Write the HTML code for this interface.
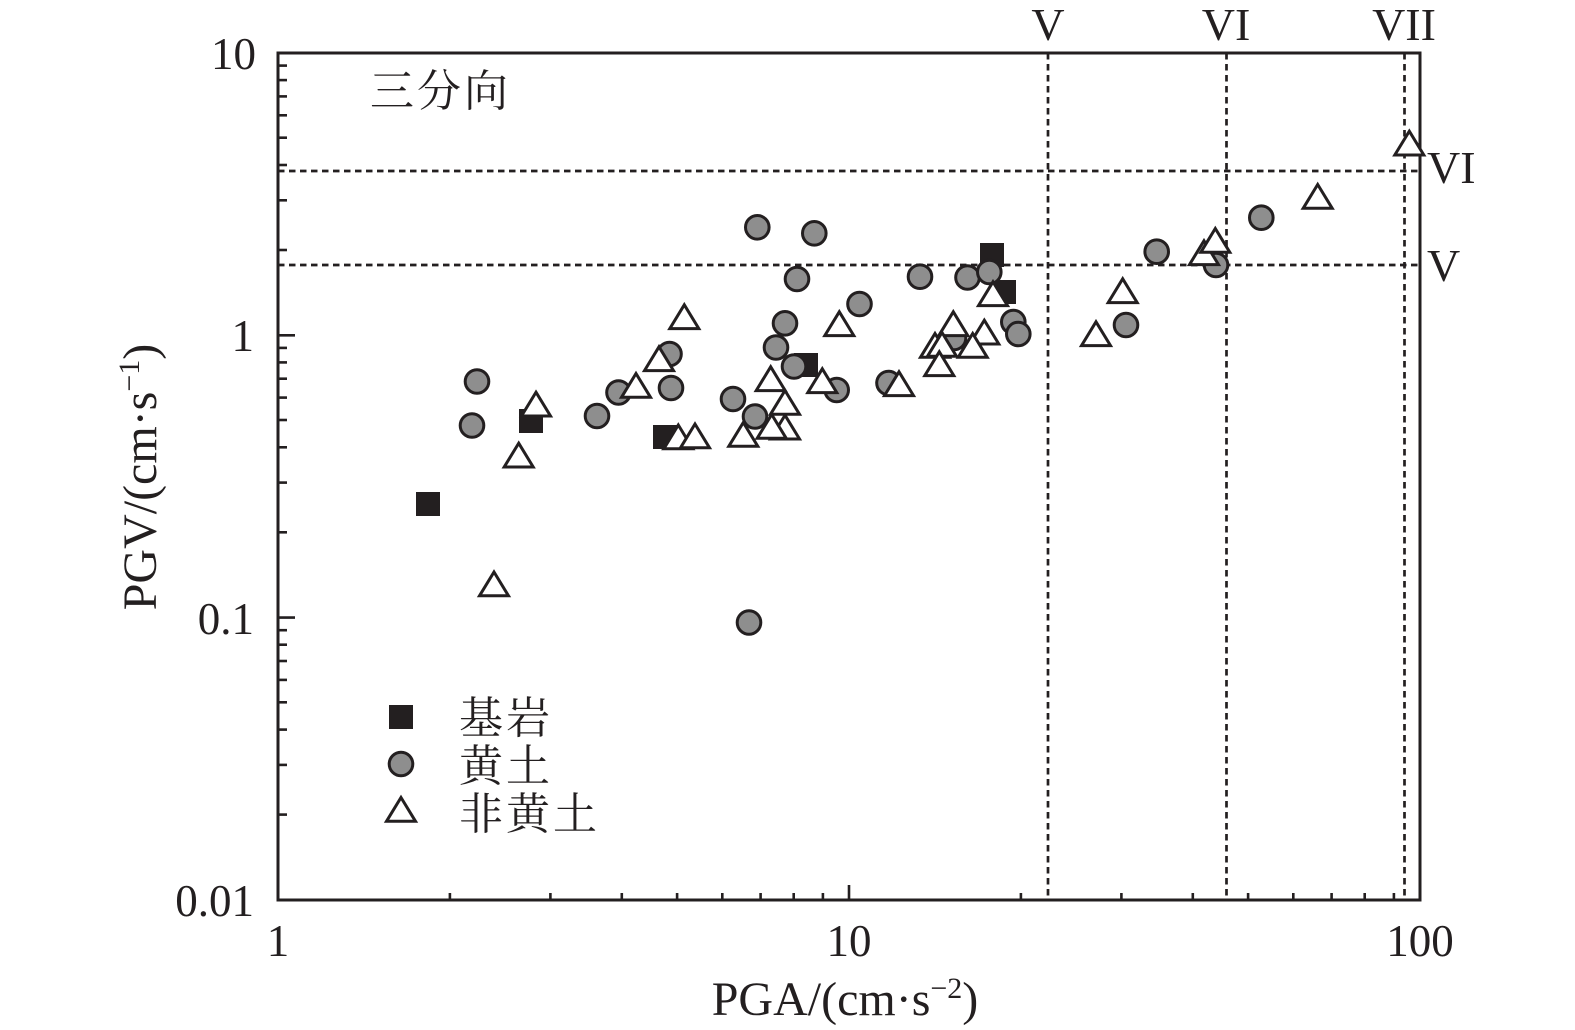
<!DOCTYPE html>
<html><head><meta charset="utf-8"><style>
html,body{margin:0;padding:0;background:#fff;}
svg{display:block;}
text{font-family:"Liberation Serif","Noto Serif CJK SC",serif;fill:#231f20;}
.cjk{font-family:"Liberation Serif","Noto Serif CJK SC","Noto Sans CJK SC",serif;}
</style></head><body>
<svg width="1575" height="1030" viewBox="0 0 1575 1030" xmlns="http://www.w3.org/2000/svg">
<rect width="1575" height="1030" fill="#fff"/>
<!-- dashed reference lines -->
<g stroke="#231f20" stroke-width="2.7" stroke-dasharray="6.5 4.5" fill="none">
<line x1="278" y1="171" x2="1420" y2="171"/>
<line x1="278" y1="265" x2="1420" y2="265"/>
<line x1="1048" y1="53" x2="1048" y2="900"/>
<line x1="1226.5" y1="53" x2="1226.5" y2="900"/>
<line x1="1404.5" y1="53" x2="1404.5" y2="900"/>
</g>
<!-- ticks -->
<g stroke="#231f20" stroke-width="2.6">
<line x1="278" y1="335.3" x2="295" y2="335.3"/>
<line x1="278" y1="617.6" x2="295" y2="617.6"/>
<line x1="278" y1="250" x2="287" y2="250"/><line x1="278" y1="200.3" x2="287" y2="200.3"/><line x1="278" y1="165" x2="287" y2="165"/><line x1="278" y1="137.7" x2="287" y2="137.7"/><line x1="278" y1="115.3" x2="287" y2="115.3"/><line x1="278" y1="96.4" x2="287" y2="96.4"/><line x1="278" y1="80.1" x2="287" y2="80.1"/><line x1="278" y1="65.6" x2="287" y2="65.6"/>
<line x1="278" y1="532.3" x2="287" y2="532.3"/><line x1="278" y1="482.6" x2="287" y2="482.6"/><line x1="278" y1="447.3" x2="287" y2="447.3"/><line x1="278" y1="420" x2="287" y2="420"/><line x1="278" y1="397.6" x2="287" y2="397.6"/><line x1="278" y1="378.7" x2="287" y2="378.7"/><line x1="278" y1="362.4" x2="287" y2="362.4"/><line x1="278" y1="347.9" x2="287" y2="347.9"/>
<line x1="278" y1="814.6" x2="287" y2="814.6"/><line x1="278" y1="764.9" x2="287" y2="764.9"/><line x1="278" y1="729.6" x2="287" y2="729.6"/><line x1="278" y1="702.3" x2="287" y2="702.3"/><line x1="278" y1="679.9" x2="287" y2="679.9"/><line x1="278" y1="661" x2="287" y2="661"/><line x1="278" y1="644.7" x2="287" y2="644.7"/><line x1="278" y1="630.2" x2="287" y2="630.2"/>
<line x1="849" y1="900" x2="849" y2="885"/>
<line x1="449.9" y1="900" x2="449.9" y2="893"/><line x1="550.4" y1="900" x2="550.4" y2="893"/><line x1="621.8" y1="900" x2="621.8" y2="893"/><line x1="677.1" y1="900" x2="677.1" y2="893"/><line x1="722.3" y1="900" x2="722.3" y2="893"/><line x1="760.6" y1="900" x2="760.6" y2="893"/><line x1="793.7" y1="900" x2="793.7" y2="893"/><line x1="822.9" y1="900" x2="822.9" y2="893"/>
<line x1="1020.9" y1="900" x2="1020.9" y2="893"/><line x1="1121.4" y1="900" x2="1121.4" y2="893"/><line x1="1192.8" y1="900" x2="1192.8" y2="893"/><line x1="1248.1" y1="900" x2="1248.1" y2="893"/><line x1="1293.3" y1="900" x2="1293.3" y2="893"/><line x1="1331.6" y1="900" x2="1331.6" y2="893"/><line x1="1364.7" y1="900" x2="1364.7" y2="893"/><line x1="1393.9" y1="900" x2="1393.9" y2="893"/>
</g>
<!-- frame -->
<rect x="278" y="53" width="1142" height="847" fill="none" stroke="#231f20" stroke-width="3"/>

<!-- squares 基岩 -->
<g fill="#231f20">
<rect x="416" y="492" width="24" height="24"/>
<rect x="519" y="409" width="24" height="24"/>
<rect x="653" y="425" width="24" height="24"/>
<rect x="794" y="353" width="24" height="24"/>
<rect x="980" y="243" width="24" height="24"/>
<rect x="992" y="280" width="24" height="24"/>
</g>
<!-- circles 黄土 -->
<g fill="#8e8e8e" stroke="#231f20" stroke-width="3">
<circle cx="477" cy="381.5" r="11.8"/>
<circle cx="472" cy="425.5" r="11.8"/>
<circle cx="597" cy="416" r="11.8"/>
<circle cx="618.5" cy="392.5" r="11.8"/>
<circle cx="669.5" cy="354" r="11.8"/>
<circle cx="671" cy="388" r="11.8"/>
<circle cx="733" cy="399" r="11.8"/>
<circle cx="755" cy="416.5" r="11.8"/>
<circle cx="776" cy="347.5" r="11.8"/>
<circle cx="785" cy="323.3" r="11.8"/>
<circle cx="794" cy="366.5" r="11.8"/>
<circle cx="797" cy="279" r="11.8"/>
<circle cx="757.3" cy="227.3" r="11.8"/>
<circle cx="814.3" cy="233.3" r="11.8"/>
<circle cx="836.7" cy="390" r="11.8"/>
<circle cx="859.5" cy="304" r="11.8"/>
<circle cx="749" cy="622.5" r="11.8"/>
<circle cx="888.5" cy="383" r="11.8"/>
<circle cx="920" cy="276.7" r="11.8"/>
<circle cx="967.5" cy="277.5" r="11.8"/>
<circle cx="989.3" cy="272" r="11.8"/>
<circle cx="954" cy="338" r="11.8"/>
<circle cx="1013.3" cy="322" r="11.8"/>
<circle cx="1018.3" cy="334" r="11.8"/>
<circle cx="1126" cy="325" r="11.8"/>
<circle cx="1156.7" cy="251.7" r="11.8"/>
<circle cx="1216" cy="265" r="11.8"/>
<circle cx="1261.3" cy="217.7" r="11.8"/>
</g>
<!-- triangles 非黄土 -->
<g fill="#fff" stroke="#231f20" stroke-width="3" stroke-linejoin="miter">
<polygon transform="translate(494,583.5)" points="0,-11.5 14.5,12.3 -14.5,12.3"/>
<polygon transform="translate(518.7,454.7)" points="0,-11.5 14.5,12.3 -14.5,12.3"/>
<polygon transform="translate(536,403.7)" points="0,-11.5 14.5,12.3 -14.5,12.3"/>
<polygon transform="translate(636,385)" points="0,-11.5 14.5,12.3 -14.5,12.3"/>
<polygon transform="translate(659,358.3)" points="0,-11.5 14.5,12.3 -14.5,12.3"/>
<polygon transform="translate(684.3,316.3)" points="0,-11.5 14.5,12.3 -14.5,12.3"/>
<polygon transform="translate(678.3,436.5)" points="0,-11.5 14.5,12.3 -14.5,12.3"/>
<polygon transform="translate(695,435.5)" points="0,-11.5 14.5,12.3 -14.5,12.3"/>
<polygon transform="translate(743.3,434)" points="0,-11.5 14.5,12.3 -14.5,12.3"/>
<polygon transform="translate(785,426.7)" points="0,-11.5 14.5,12.3 -14.5,12.3"/>
<polygon transform="translate(771.7,426)" points="0,-11.5 14.5,12.3 -14.5,12.3"/>
<polygon transform="translate(785,402)" points="0,-11.5 14.5,12.3 -14.5,12.3"/>
<polygon transform="translate(770.7,378.3)" points="0,-11.5 14.5,12.3 -14.5,12.3"/>
<polygon transform="translate(822.3,380.3)" points="0,-11.5 14.5,12.3 -14.5,12.3"/>
<polygon transform="translate(839.3,323.3)" points="0,-11.5 14.5,12.3 -14.5,12.3"/>
<polygon transform="translate(899,383.3)" points="0,-11.5 14.5,12.3 -14.5,12.3"/>
<polygon transform="translate(953.3,323.3)" points="0,-11.5 14.5,12.3 -14.5,12.3"/>
<polygon transform="translate(984.3,331.7)" points="0,-11.5 14.5,12.3 -14.5,12.3"/>
<polygon transform="translate(935,345)" points="0,-11.5 14.5,12.3 -14.5,12.3"/>
<polygon transform="translate(942,344)" points="0,-11.5 14.5,12.3 -14.5,12.3"/>
<polygon transform="translate(972.7,345)" points="0,-11.5 14.5,12.3 -14.5,12.3"/>
<polygon transform="translate(939.3,363.3)" points="0,-11.5 14.5,12.3 -14.5,12.3"/>
<polygon transform="translate(993,293.3)" points="0,-11.5 14.5,12.3 -14.5,12.3"/>
<polygon transform="translate(1096,333.3)" points="0,-11.5 14.5,12.3 -14.5,12.3"/>
<polygon transform="translate(1122.7,290.3)" points="0,-11.5 14.5,12.3 -14.5,12.3"/>
<polygon transform="translate(1204,252.3)" points="0,-11.5 14.5,12.3 -14.5,12.3"/>
<polygon transform="translate(1215.3,240)" points="0,-11.5 14.5,12.3 -14.5,12.3"/>
<polygon transform="translate(1317.7,196)" points="0,-11.5 14.5,12.3 -14.5,12.3"/>
<polygon transform="translate(1409.3,142.7)" points="0,-11.5 14.5,12.3 -14.5,12.3"/>
</g>

<!-- tick labels -->
<g font-size="45">
<text x="256" y="69" text-anchor="end">10</text>
<text x="254" y="351" text-anchor="end">1</text>
<text x="254" y="634" text-anchor="end">0.1</text>
<text x="254" y="916" text-anchor="end">0.01</text>
<text x="278" y="956" text-anchor="middle">1</text>
<text x="849" y="956" text-anchor="middle">10</text>
<text x="1420" y="956" text-anchor="middle">100</text>
</g>
<!-- axis titles -->
<text x="845" y="1015" text-anchor="middle" font-size="48">PGA/(cm·s<tspan dy="-17" font-size="30">−2</tspan><tspan dy="17">)</tspan></text>
<text transform="translate(156,477) rotate(-90)" x="0" y="0" text-anchor="middle" font-size="48">PGV/(cm·s<tspan dy="-17" font-size="30">−1</tspan><tspan dy="17">)</tspan></text>

<!-- intensity labels -->
<g font-size="46">
<text x="1048" y="40" text-anchor="middle">V</text>
<text x="1226" y="40" text-anchor="middle">VI</text>
<text x="1404" y="40" text-anchor="middle">VII</text>
<text x="1427" y="183">VI</text>
<text x="1427" y="281">V</text>
</g>

<!-- panel title -->
<text class="cjk" x="370" y="106" font-size="44" letter-spacing="3">三分向</text>

<!-- legend -->
<rect x="389" y="705" width="24" height="24" fill="#231f20"/>
<circle cx="401" cy="764" r="11.8" fill="#8e8e8e" stroke="#231f20" stroke-width="3"/>
<polygon transform="translate(401,809)" points="0,-11.5 14.5,12.3 -14.5,12.3" fill="#fff" stroke="#231f20" stroke-width="3"/>
<g class="cjk" font-size="44" letter-spacing="3">
<text class="cjk" x="459" y="733">基岩</text>
<text class="cjk" x="459" y="781">黄土</text>
<text class="cjk" x="459" y="829">非黄土</text>
</g>
</svg>
</body></html>
